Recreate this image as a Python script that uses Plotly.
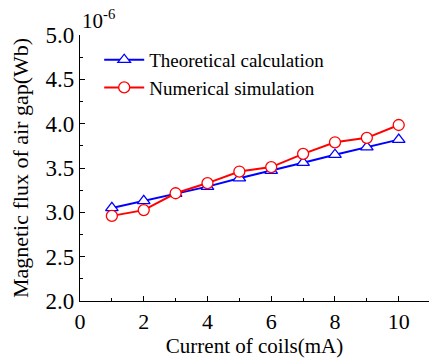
import plotly.graph_objects as go

current = [1, 2, 3, 4, 5, 6, 7, 8, 9, 10]
theoretical = [3.05, 3.13, 3.21, 3.29, 3.385, 3.47, 3.56, 3.65, 3.735, 3.82]
numerical = [2.96, 3.025, 3.215, 3.33, 3.46, 3.51, 3.66, 3.79, 3.84, 3.985]

font = "Liberation Serif"

fig = go.Figure()
fig.add_trace(go.Scatter(
    x=current, y=theoretical, name="Theoretical calculation", mode="lines+markers",
    line=dict(color="#0000ff", width=2),
    marker=dict(symbol="triangle-up", size=11, color="white", line=dict(color="#0000ff", width=1.3)),
))
fig.add_trace(go.Scatter(
    x=current, y=numerical, name="Numerical simulation", mode="lines+markers",
    line=dict(color="#ff0000", width=2),
    marker=dict(symbol="circle", size=11, color="white", line=dict(color="#ff0000", width=1.3)),
))

fig.update_layout(
    width=429, height=361,
    margin=dict(l=80, r=0, t=35, b=60),
    plot_bgcolor="white", paper_bgcolor="white",
    font=dict(family=font, size=21, color="black"),
    showlegend=True,
    legend=dict(x=0.055, y=0.978, xanchor="left", yanchor="top",
                font=dict(size=19, family=font, color="black"), bgcolor="rgba(0,0,0,0)",
                tracegroupgap=0, itemwidth=40),
    xaxis=dict(range=[0, 10.95], tickvals=[0, 2, 4, 6, 8, 10],
               showline=True, linecolor="black", linewidth=1.3,
               ticks="inside", ticklen=5, tickcolor="black", tickwidth=1.3,
               minor=dict(tickvals=[1, 3, 5, 7, 9], ticks="inside", ticklen=3, tickcolor="black", tickwidth=1),
               showgrid=False, zeroline=False,
               title=dict(text="Current of coils(mA)", font=dict(size=21, family=font, color="black"), standoff=4),
               tickfont=dict(size=22, family=font, color="black")),
    yaxis=dict(range=[2, 5], tickvals=[2.0, 2.5, 3.0, 3.5, 4.0, 4.5, 5.0], tickformat=".1f",
               showline=True, linecolor="black", linewidth=1.3,
               ticks="inside", ticklen=5, tickcolor="black", tickwidth=1.3,
               minor=dict(tickvals=[2.25, 2.75, 3.25, 3.75, 4.25, 4.75], ticks="inside", ticklen=3, tickcolor="black", tickwidth=1),
               showgrid=False, zeroline=False,
               title=dict(text="Magnetic flux of air gap(Wb)", font=dict(size=22, family=font, color="black"), standoff=10),
               tickfont=dict(size=23, family=font, color="black")),
    annotations=[dict(text="10<sup>-6</sup>", xref="paper", yref="paper", x=0, y=1,
                      xanchor="left", yanchor="bottom", showarrow=False,
                      font=dict(size=21, family=font, color="black"))],
)

fig.write_html("out.html")
